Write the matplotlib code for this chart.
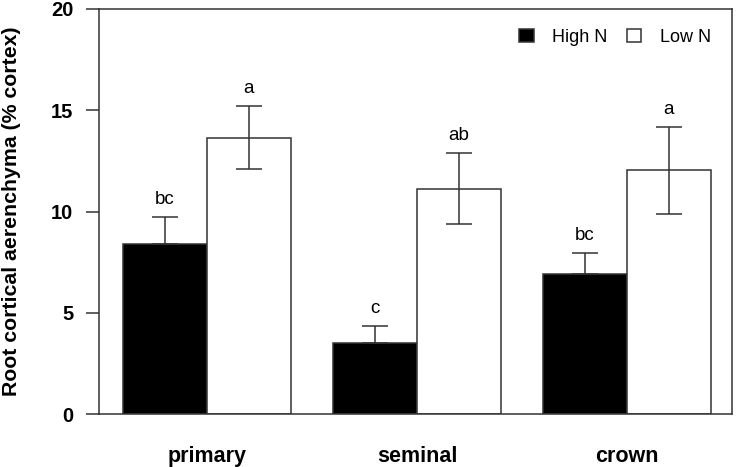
import numpy as np
import matplotlib.pyplot as plt

plt.rcParams['font.family'] = ['Liberation Sans', 'DejaVu Sans']

# data
roots = ["primary", "seminal", "crown"]
high_n = [8.4, 3.5, 6.9]
high_n_err = [1.35, 0.85, 1.05]
low_n = [13.65, 11.13, 12.03]
low_n_err = [1.55, 1.76, 2.14]
high_letters = ["bc", "c", "bc"]
low_letters = ["a", "ab", "a"]

x = np.arange(len(roots))
w = 0.4
edge = "#333333"

fig = plt.figure(figsize=(7.37, 4.67), dpi=100)
ax = fig.add_axes([99 / 737, 1 - 414 / 467, 633 / 737, 405 / 467])

ekw = dict(ecolor=edge, elinewidth=1.1, capsize=9.5, capthick=1.1)
ax.bar(x - w / 2, high_n, w, color="black", edgecolor=edge, linewidth=1.1,
       label="High N", yerr=[np.zeros(len(roots)), high_n_err], error_kw=ekw)
ax.bar(x + w / 2, low_n, w, color="white", edgecolor=edge, linewidth=1.1,
       label="Low N", yerr=low_n_err, error_kw=ekw)

# significance letters
for i in range(len(roots)):
    ax.text(x[i] - w / 2, high_n[i] + high_n_err[i] + 0.64, high_letters[i],
            ha="center", va="baseline", fontsize=13.5)
    ax.text(x[i] + w / 2, low_n[i] + low_n_err[i] + 0.64, low_letters[i],
            ha="center", va="baseline", fontsize=13.5)

ax.set_xlim(-0.514, 2.5)
ax.set_ylim(0, 20)
ax.set_yticks([0, 5, 10, 15, 20])
ax.set_xticks(x)
ax.set_xticklabels(roots, fontsize=15.5, fontweight="bold")
ax.tick_params(axis="x", length=0, pad=23)
ax.tick_params(axis="y", length=9.5, width=1.1, pad=9, labelsize=14.5, color=edge)
for lab in ax.get_yticklabels():
    lab.set_fontweight("bold")
for s in ax.spines.values():
    s.set_color(edge)
    s.set_linewidth(1.1)

ax.set_ylabel("Root cortical aerenchyma (% cortex)", fontsize=15.3, fontweight="bold")
ax.yaxis.set_label_coords(-0.124, 0.5)

ax.legend(loc="upper right", ncol=2, frameon=False, fontsize=13, handlelength=0.78,
          handleheight=0.7, columnspacing=1.05, handletextpad=1.05, borderpad=0,
          borderaxespad=0, bbox_to_anchor=((711 - 99) / 633, (414 - 29) / 405))

fig.savefig("out.png", dpi=100)
